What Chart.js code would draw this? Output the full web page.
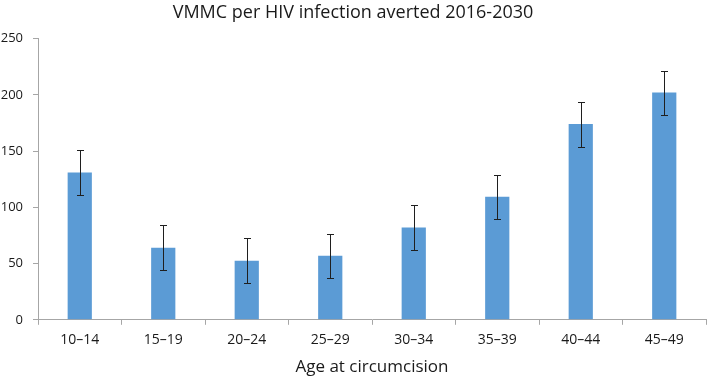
<!DOCTYPE html>
<html>
<head>
<meta charset="utf-8">
<script src="https://cdn.jsdelivr.net/npm/chart.js@4"></script>
<style>
  html, body { margin: 0; padding: 0; background: #fff; }
  #wrap { width: 708px; height: 377px; }
</style>
</head>
<body>
<div id="wrap"><canvas id="vmmcChart"></canvas></div>
<script>
// data
const ageGroups = ['10–14', '15–19', '20–24', '25–29', '30–34', '35–39', '40–44', '45–49'];
const vmmcPerInfection = [131, 64, 52.5, 57, 82, 109.5, 174, 202];
const errLow = [111, 44.5, 32.5, 37, 62, 89.5, 154, 182];
const errHigh = [151, 84, 72.5, 76.5, 102, 129, 194, 221.5];
const yTicks = [0, 50, 100, 150, 200, 250];

const fontFam = "'Open Sans', 'Noto Sans', sans-serif";

// simple error bar plugin, uses bar x and y scale
const errorBars = {
    id: 'errorBars',
    afterDatasetsDraw(chart) {
        const ctx = chart.ctx;
        const yScale = chart.scales.y;
        const meta = chart.getDatasetMeta(0);
        ctx.save();
        ctx.strokeStyle = '#1f1f1f';
        ctx.lineWidth = 1;
        meta.data.forEach((bar, i) => {
            const x = Math.round(bar.x) + 0.5;
            const yHi = Math.round(yScale.getPixelForValue(errHigh[i])) + 0.5;
            const yLo = Math.round(yScale.getPixelForValue(errLow[i])) + 0.5;
            ctx.beginPath();
            ctx.moveTo(x, yHi);
            ctx.lineTo(x, yLo);
            ctx.moveTo(x - 3.5, yHi);
            ctx.lineTo(x + 3.5, yHi);
            ctx.moveTo(x - 3.5, yLo);
            ctx.lineTo(x + 3.5, yLo);
            ctx.stroke();
        });
        ctx.restore();
    }
};

const ctx = document.getElementById('vmmcChart').getContext('2d');

new Chart(ctx, {
    type: 'bar',
    data: {
        labels: ageGroups,
        datasets: [{
            label: 'VMMC per HIV infection averted',
            data: vmmcPerInfection,
            backgroundColor: '#5b9bd5',
            borderWidth: 0,
            barPercentage: 1,
            categoryPercentage: 0.29
        }]
    },
    options: {
        responsive: true,
        maintainAspectRatio: false,
        animation: false,
        layout: {
            padding: { left: 0, right: 2, top: 0, bottom: 0 }
        },
        plugins: {
            legend: { display: false },
            tooltip: { enabled: false },
            title: {
                display: true,
                text: 'VMMC per HIV infection averted 2016-2030',
                color: '#1a1a1a',
                font: { family: fontFam, size: 18, weight: 'normal' },
                padding: { top: 2, bottom: 15 }
            }
        },
        scales: {
            y: {
                min: 0,
                max: 250,
                afterBuildTicks(axis) {
                    axis.ticks = yTicks.map(v => ({ value: v }));
                },
                afterFit(axis) {
                    axis.width = 38;
                },
                border: { display: true, color: '#a6a6a6', width: 1 },
                grid: {
                    drawOnChartArea: false,
                    drawTicks: true,
                    tickLength: 5,
                    color: '#a6a6a6'
                },
                ticks: {
                    color: '#1a1a1a',
                    padding: 10,
                    font: { family: fontFam, size: 13 }
                }
            },
            x: {
                border: { display: true, color: '#a6a6a6', width: 1 },
                grid: {
                    offset: true,
                    drawOnChartArea: false,
                    drawTicks: true,
                    tickLength: 5,
                    color: '#a6a6a6'
                },
                ticks: {
                    color: '#1a1a1a',
                    padding: 7,
                    maxRotation: 0,
                    font: { family: fontFam, size: 14 }
                },
                title: {
                    display: true,
                    text: 'Age at circumcision',
                    color: '#1a1a1a',
                    font: { family: fontFam, size: 17 },
                    padding: { top: 1, bottom: 0 }
                }
            }
        }
    },
    plugins: [errorBars]
});
</script>
</body>
</html>
